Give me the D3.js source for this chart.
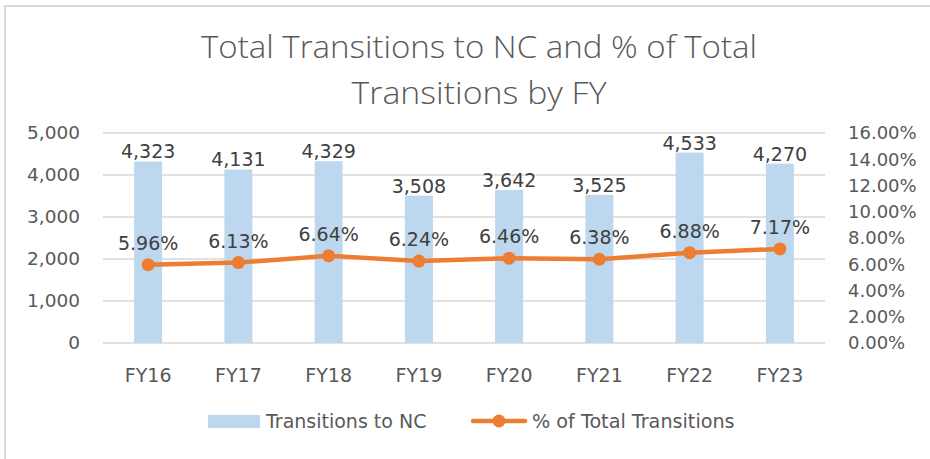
<!DOCTYPE html>
<html>
<head>
<meta charset="utf-8">
<script src="https://cdn.jsdelivr.net/npm/d3@7"></script>
<style>
  body { margin: 0; background: #fff; }
  svg text { font-family: "DejaVu Sans", "Open Sans", sans-serif; fill: #595959; }
</style>
</head>
<body>
<svg id="canvas" width="930" height="459"></svg>
<script>
// chart data
const years = ["FY16", "FY17", "FY18", "FY19", "FY20", "FY21", "FY22", "FY23"]
const transitions = [4323, 4131, 4329, 3508, 3642, 3525, 4533, 4270]
const pctTotal = [5.96, 6.13, 6.64, 6.24, 6.46, 6.38, 6.88, 7.17]
const leftTicks = [0, 1000, 2000, 3000, 4000, 5000]
const rightTicks = [0, 2, 4, 6, 8, 10, 12, 14, 16]

const w = 930, h = 459
const svg = d3.select("#canvas")

// outer frame
svg.append("rect")
  .attr("x", 5).attr("y", 6)
  .attr("width", w + 10).attr("height", h + 10)
  .attr("fill", "none")
  .attr("stroke", "#d9d9d9")
  .attr("stroke-width", 2)

const plot = {left: 103, right: 825, top: 133, bottom: 343}

const x = d3.scaleBand().domain(years).range([plot.left, plot.right]).paddingInner(0.69).paddingOuter(0.345)
const yL = d3.scaleLinear().domain([0, 5000]).range([plot.bottom, plot.top])
const yR = d3.scaleLinear().domain([0, 16]).range([plot.bottom, plot.top])

// gridlines
svg.append("g").selectAll("line")
  .data(leftTicks)
  .join("line")
  .attr("x1", plot.left).attr("x2", plot.right)
  .attr("y1", d => yL(d)).attr("y2", d => yL(d))
  .attr("stroke", "#d9d9d9")
  .attr("stroke-width", 1.3)

// left axis
const fmtNum = d3.format(",")
const leftAxis = svg.append("g")
  .attr("transform", `translate(${plot.left - 23},0)`)
  .call(d3.axisLeft(yL).tickValues(leftTicks).tickFormat(fmtNum).tickSize(0).tickPadding(0))
leftAxis.select(".domain").remove()
leftAxis.selectAll("text").style("font-size", "18.5px").attr("fill", "#595959")

// right axis
const rightAxis = svg.append("g")
  .attr("transform", `translate(${plot.right + 23},0)`)
  .call(d3.axisRight(yR).tickValues(rightTicks).tickFormat(d => d.toFixed(2) + "%").tickSize(0).tickPadding(0))
rightAxis.select(".domain").remove()
rightAxis.selectAll("text").style("font-size", "18px").attr("fill", "#595959")

// category axis
const bottomAxis = svg.append("g")
  .attr("transform", `translate(0,${plot.bottom})`)
  .call(d3.axisBottom(x).tickSize(0).tickPadding(0))
bottomAxis.select(".domain").remove()
bottomAxis.selectAll("text")
  .attr("y", 39).attr("dy", null)
  .style("font-size", "19px").attr("fill", "#595959")

// bars
svg.append("g").selectAll("rect")
  .data(years)
  .join("rect")
  .attr("x", d => x(d))
  .attr("width", x.bandwidth())
  .attr("y", (d, i) => yL(transitions[i]))
  .attr("height", (d, i) => plot.bottom - yL(transitions[i]))
  .attr("fill", "#bdd7ee")

// bar labels
svg.append("g").selectAll("text")
  .data(years)
  .join("text")
  .attr("x", d => x(d) + x.bandwidth() / 2)
  .attr("y", (d, i) => yL(transitions[i]) - 3)
  .attr("text-anchor", "middle")
  .style("font-size", "19px")
  .style("fill", "#404040")
  .text((d, i) => fmtNum(transitions[i]))

// line
const cx = d => x(d) + x.bandwidth() / 2
const line = d3.line().x((d, i) => cx(years[i])).y(d => yR(d))
svg.append("path")
  .datum(pctTotal)
  .attr("d", line)
  .attr("fill", "none")
  .attr("stroke", "#ed7d31")
  .attr("stroke-width", 4.5)
  .attr("stroke-linejoin", "round")

svg.append("g").selectAll("circle")
  .data(pctTotal)
  .join("circle")
  .attr("cx", (d, i) => cx(years[i]))
  .attr("cy", d => yR(d))
  .attr("r", 6.5)
  .attr("fill", "#ed7d31")

svg.append("g").selectAll("text")
  .data(pctTotal)
  .join("text")
  .attr("x", (d, i) => cx(years[i]))
  .attr("y", d => yR(d) - 15)
  .attr("text-anchor", "middle")
  .style("font-size", "19px")
  .style("fill", "#404040")
  .text(d => d.toFixed(2) + "%")

// title
const title = svg.append("g").attr("class", "title")
title.append("text")
  .attr("x", 479).attr("y", 58)
  .attr("text-anchor", "middle")
  .attr("textLength", 556).attr("lengthAdjust", "spacingAndGlyphs")
  .style("font-family", "'Open Sans', sans-serif")
  .style("font-weight", 300)
  .style("font-size", "32px")
  .text("Total Transitions to NC and % of Total")
title.append("text")
  .attr("x", 479).attr("y", 104)
  .attr("text-anchor", "middle")
  .attr("textLength", 255).attr("lengthAdjust", "spacingAndGlyphs")
  .style("font-family", "'Open Sans', sans-serif")
  .style("font-weight", 300)
  .style("font-size", "32px")
  .text("Transitions by FY")

// legend
const legend = svg.append("g")
legend.append("rect")
  .attr("x", 208).attr("y", 415).attr("width", 52).attr("height", 13)
  .attr("fill", "#bdd7ee")
legend.append("text")
  .attr("x", 266).attr("y", 428)
  .style("font-size", "19px")
  .text("Transitions to NC")
legend.append("line")
  .attr("x1", 473).attr("x2", 525).attr("y1", 421).attr("y2", 421)
  .attr("stroke", "#ed7d31").attr("stroke-width", 4.5).attr("stroke-linecap", "round")
legend.append("circle")
  .attr("cx", 499).attr("cy", 421).attr("r", 6.5).attr("fill", "#ed7d31")
legend.append("text")
  .attr("x", 532).attr("y", 428)
  .style("font-size", "19.2px")
  .text("% of Total Transitions")
</script>
</body>
</html>
